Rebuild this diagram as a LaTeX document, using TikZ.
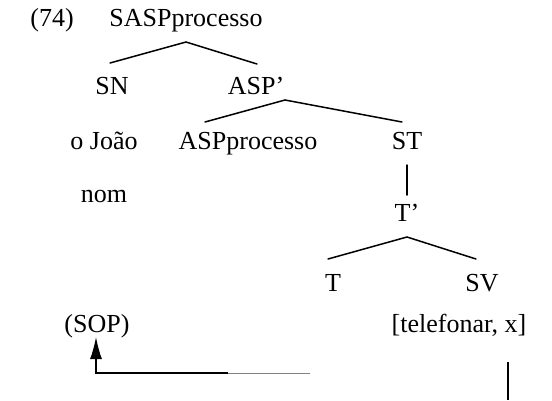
\documentclass[tikz,border=0pt]{standalone}
\usepackage{fontspec}
\setmainfont{Liberation Serif}
\usetikzlibrary{arrows.meta}
\begin{document}
\begin{tikzpicture}[x=1pt,y=-1pt,
  lbl/.style={anchor=base,inner sep=0pt,font=\fontsize{26}{30}\selectfont},
  branch/.style={line width=1.5pt,line cap=round},
  link/.style={line width=1.3pt}]
\useasboundingbox (0,0) rectangle (552,400);

% labels
\node[lbl] (ex)   at (52,26)  {(74)};
\node[lbl] (sasp) at (186,26) {SASPprocesso};
\node[lbl] (sn)   at (112,94) {SN};
\node[lbl] (aspb) at (256,94) {ASP'};
\node[lbl] (joao) at (104,149) {o João};
\node[lbl] (asp)  at (248,149) {ASPprocesso};
\node[lbl] (st)   at (407,149) {ST};
\node[lbl] (nom)  at (104,202) {nom};
\node[lbl] (tb)   at (407,221) {T'};
\node[lbl] (t)    at (333,291) {T};
\node[lbl] (sv)   at (482,291) {SV};
\node[lbl] (sop)  at (97,332)  {(SOP)};
\node[lbl] (tel)  at (459,332) {[telefonar, x]};

% branch points
\coordinate (a1) at (186,42);
\coordinate (a1l) at (110,63);
\coordinate (a1r) at (257,64);
\coordinate (a2) at (285,100);
\coordinate (a2l) at (205,122);
\coordinate (a2r) at (402,122);
\coordinate (a3) at (407,237);
\coordinate (a3l) at (328,259);
\coordinate (a3r) at (476,259);
\coordinate (stb) at (407,165);
\coordinate (tbt) at (407,195);

\draw[branch] (a1l) -- (a1) -- (a1r);
\draw[branch] (a2l) -- (a2) -- (a2r);
\draw[branch] (stb) -- (tbt);
\draw[branch] (a3l) -- (a3) -- (a3r);

% binding arrow
\coordinate (corner) at (96,373);
\coordinate (mid) at (228,373);
\coordinate (fade) at (310,373);
\coordinate (tip) at (96,337);
\coordinate (vtop) at (508,362);
\coordinate (vbot) at (508,400);
\draw[link,-{Latex[length=22pt,width=12pt]}] (mid) -- (corner) -- (tip);
\draw[line width=1pt,black!50] (mid) -- (fade);
\draw[link] (vtop) -- (vbot);
\end{tikzpicture}
\end{document}
